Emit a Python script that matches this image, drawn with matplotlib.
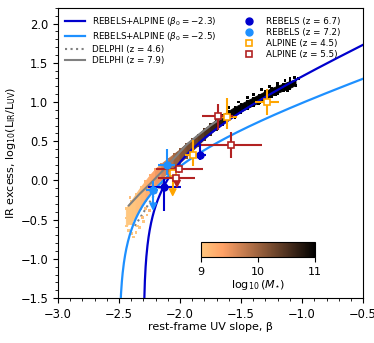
import numpy as np
import matplotlib.pyplot as plt
from matplotlib.collections import PolyCollection
from matplotlib.lines import Line2D
from matplotlib.colors import Normalize

# === IRX-BETA MODEL RELATIONS (REBELS+ALPINE FITS) ===
fit_beta0 = [-2.3, -2.5]
fit_k = [1.875, 1.375]          # dA/dbeta
fit_b = [2.51, 1.71]            # IR/UV bolometric factor
fit_colors = ['mediumblue', 'dodgerblue']

# === DELPHI SIMULATION CLOUD (dense core of galaxies) ===
sim_beta = [-2.44, -2.40, -2.36, -2.32, -2.28, -2.24, -2.20, -2.15, -2.10, -2.05,
            -2.00, -1.95, -1.90, -1.85, -1.80, -1.75, -1.70, -1.65, -1.60, -1.55,
            -1.50, -1.45, -1.40, -1.35, -1.30, -1.25, -1.20, -1.15, -1.10, -1.05]
sim_irx_hi = [-0.36, -0.27, -0.18, -0.09, -0.01, 0.07, 0.14, 0.21, 0.27, 0.33,
              0.39, 0.46, 0.52, 0.58, 0.65, 0.71, 0.77, 0.83, 0.88, 0.93,
              0.97, 1.01, 1.05, 1.09, 1.13, 1.17, 1.20, 1.23, 1.26, 1.28]
sim_irx_lo = [-0.58, -0.55, -0.46, -0.36, -0.26, -0.16, -0.08, 0.01, 0.09, 0.16,
              0.22, 0.29, 0.37, 0.44, 0.52, 0.59, 0.65, 0.71, 0.77, 0.82,
              0.87, 0.91, 0.95, 0.99, 1.03, 1.07, 1.11, 1.14, 1.17, 1.21]
sim_mass = [8.9, 9.0, 9.05, 9.1, 9.2, 9.3, 9.4, 9.55, 9.75, 9.95,
            10.1, 10.2, 10.3, 10.4, 10.5, 10.6, 10.7, 10.8, 10.9, 11.0,
            11.0, 11.0, 11.0, 11.0, 11.0, 11.0, 11.0, 11.0, 11.0, 11.0]

# sparse galaxies outside the core
out_beta = [-2.42, -2.40, -2.38, -2.36, -2.35, -2.33, -2.31, -2.30, -2.28, -2.27,
            -2.25, -2.22, -2.44, -2.41,
            -1.60, -1.52, -1.45, -1.40, -1.33, -1.27, -1.20, -1.14, -1.10, -1.06,
            -1.03, -1.55, -1.36, -1.22, -1.12]
out_irx = [-0.64, -0.68, -0.72, -0.66, -0.58, -0.60, -0.47, -0.52, -0.36, -0.44,
           -0.38, -0.30, -0.48, -0.22,
           0.93, 1.00, 1.06, 1.10, 1.16, 1.20, 1.24, 1.27, 1.30, 1.31,
           1.30, 0.80, 0.98, 1.09, 1.15]
out_mass = [9.0, 8.9, 8.9, 9.0, 9.0, 9.0, 9.1, 9.0, 9.1, 9.1,
            9.2, 9.3, 8.9, 9.1,
            11.0, 11.0, 11.0, 11.0, 11.0, 11.0, 11.0, 11.0, 11.0, 11.0,
            11.0, 11.0, 11.0, 11.0, 11.0]

# DELPHI median relations
delphi46_beta = [-2.37, -2.30, -2.25, -2.20, -2.15, -2.10, -2.00, -1.90, -1.80, -1.70, -1.60]
delphi46_irx = [-0.58, -0.41, -0.28, -0.16, -0.04, 0.12, 0.27, 0.43, 0.58, 0.71, 0.83]
delphi79_beta = [-2.42, -2.33, -2.25, -2.15, -2.05, -1.95, -1.85, -1.75, -1.65]
delphi79_irx = [-0.32, -0.17, -0.05, 0.11, 0.28, 0.45, 0.58, 0.70, 0.81]

# === OBSERVATIONS ===
reb67_beta = [-1.836, -2.13]
reb67_irx = [0.32, -0.09]
reb67_xerr = [[0.05, 0.13], [0.05, 0.14]]
reb67_yerr = [[0.06, 0.30], [0.15, 0.12]]

reb72_beta = [-2.11, -2.22]
reb72_irx = [0.20, -0.12]
reb72_xerr = [[0.07, 0.06], [0.07, 0.04]]
reb72_yerr = [[0.13, 0.21], [0.20, 0.11]]

alp45_beta = [-1.29, -1.617, -1.89, -2.06]
alp45_irx = [1.00, 0.81, 0.33, 0.10]
alp45_xerr = [[0.10, 0.05, 0.07, 0.0], [0.10, 0.08, 0.07, 0.0]]
alp45_yerr = [[0.16, 0.16, 0.15, 0.24], [0.16, 0.24, 0.18, 0.0]]

alp55_beta = [-1.69, -1.585, -2.006, -2.03]
alp55_irx = [0.82, 0.45, 0.15, 0.025]
alp55_xerr = [[0.13, 0.24, 0.19, 0.15], [0.12, 0.26, 0.19, 0.15]]
alp55_yerr = [[0.18, 0.17, 0.05, 0.06], [0.16, 0.17, 0.05, 0.0]]

# upper-limit arrow heads
lim_beta = [-2.22, -2.06, -2.025]
lim_irx = [-0.33, -0.15, -0.04]
lim_colors = ['dodgerblue', 'orange', 'firebrick']

fig = plt.figure(figsize=(3.74, 3.43), dpi=100)
ax = fig.add_axes([0.155, 0.131, 0.816, 0.846])

cmap = plt.get_cmap('copper_r')
norm = Normalize(vmin=9, vmax=11)

# model curves
for b0, k, bb, col in zip(fit_beta0, fit_k, fit_b, fit_colors):
    bgrid = np.linspace(b0 + 1e-5, -0.5, 600)
    irx = np.log10(bb * (10 ** (0.4 * k * (bgrid - b0)) - 1))
    ax.plot(bgrid, irx, color=col, lw=1.6, zorder=3)

# DELPHI cloud
ax.plot(delphi46_beta, delphi46_irx, color='gray', ls=':', lw=1.5, zorder=1)
verts = []
for i in range(len(sim_beta) - 1):
    verts.append([(sim_beta[i], sim_irx_lo[i]), (sim_beta[i], sim_irx_hi[i]),
                  (sim_beta[i + 1], sim_irx_hi[i + 1]), (sim_beta[i + 1], sim_irx_lo[i + 1])])
seg_mass = [(sim_mass[i] + sim_mass[i + 1]) / 2 for i in range(len(sim_beta) - 1)]
pc = PolyCollection(verts, cmap=cmap, norm=norm, linewidths=0.6, zorder=2)
pc.set_array(np.array(seg_mass))
pc.set_edgecolor('face')
ax.add_collection(pc)
ax.scatter(sim_beta, sim_irx_hi, c=sim_mass, cmap=cmap, norm=norm, marker='s', s=4, lw=0, zorder=2)
ax.scatter(sim_beta, sim_irx_lo, c=sim_mass, cmap=cmap, norm=norm, marker='s', s=4, lw=0, zorder=2)
ax.scatter(out_beta, out_irx, c=out_mass, cmap=cmap, norm=norm, marker='s', s=4, lw=0, zorder=2)
ax.plot(delphi79_beta, delphi79_irx, color='gray', ls='-', lw=1.5, zorder=2.5)

# observations
ekw = dict(ls='none', elinewidth=1.5, capsize=0, zorder=5)
ax.errorbar(reb67_beta, reb67_irx, xerr=reb67_xerr, yerr=reb67_yerr, fmt='o',
            color='mediumblue', ms=5, **ekw)
ax.errorbar(reb72_beta, reb72_irx, xerr=reb72_xerr, yerr=reb72_yerr, fmt='o',
            color='dodgerblue', ms=5, **ekw)
ax.errorbar(alp45_beta, alp45_irx, xerr=alp45_xerr, yerr=alp45_yerr, fmt='s',
            color='orange', mfc='white', mec='orange', mew=1.2, ms=5, **ekw)
ax.errorbar(alp55_beta, alp55_irx, xerr=alp55_xerr, yerr=alp55_yerr, fmt='s',
            color='firebrick', mfc='white', mec='firebrick', mew=1.2, ms=5, **ekw)
ax.scatter(lim_beta, lim_irx, c=lim_colors, marker='v', s=22, zorder=5)

ax.set_xlim(-3.0, -0.5)
ax.set_ylim(-1.5, 2.2)
ax.set_xticks([-3.0, -2.5, -2.0, -1.5, -1.0, -0.5])
ax.set_yticks([-1.5, -1.0, -0.5, 0.0, 0.5, 1.0, 1.5, 2.0])
ax.minorticks_on()
ax.tick_params(labelsize=8.3)
ax.set_xlabel(r'rest-frame UV slope, β', fontsize=8, labelpad=1)
ax.set_ylabel(r'IR excess, log$_{10}$(L$_{\rm IR}$/L$_{\rm UV}$)', fontsize=8, labelpad=2)

# legend
handles = [
    Line2D([], [], color='mediumblue', lw=1.6),
    Line2D([], [], color='dodgerblue', lw=1.6),
    Line2D([], [], color='gray', ls=':', lw=1.5),
    Line2D([], [], color='gray', lw=1.5),
    Line2D([], [], color='mediumblue', marker='o', ls='none', ms=5),
    Line2D([], [], color='dodgerblue', marker='o', ls='none', ms=5),
    Line2D([], [], color='orange', marker='s', mfc='white', mew=1.2, ls='none', ms=5),
    Line2D([], [], color='firebrick', marker='s', mfc='white', mew=1.2, ls='none', ms=5),
]
labels = [r'REBELS+ALPINE ($\beta_0=-2.3$)', r'REBELS+ALPINE ($\beta_0=-2.5$)',
          'DELPHI (z = 4.6)', 'DELPHI (z = 7.9)',
          'REBELS (z = 6.7)', 'REBELS (z = 7.2)', 'ALPINE (z = 4.5)', 'ALPINE (z = 5.5)']
ax.legend(handles, labels, loc='upper left', ncol=2, frameon=False, fontsize=6.3,
          handlelength=2.3, columnspacing=2.6, labelspacing=0.22, borderaxespad=0.4)

# colorbar inset
cax = ax.inset_axes([0.468, 0.142, 0.375, 0.05])
sm = plt.cm.ScalarMappable(cmap=cmap, norm=norm)
cb = fig.colorbar(sm, cax=cax, orientation='horizontal', ticks=[9, 10, 11])
cb.ax.tick_params(labelsize=8)
cb.set_label(r'$\log_{10}(M_{\star})$', fontsize=8, labelpad=1)

fig.savefig('out.png', dpi=100)
